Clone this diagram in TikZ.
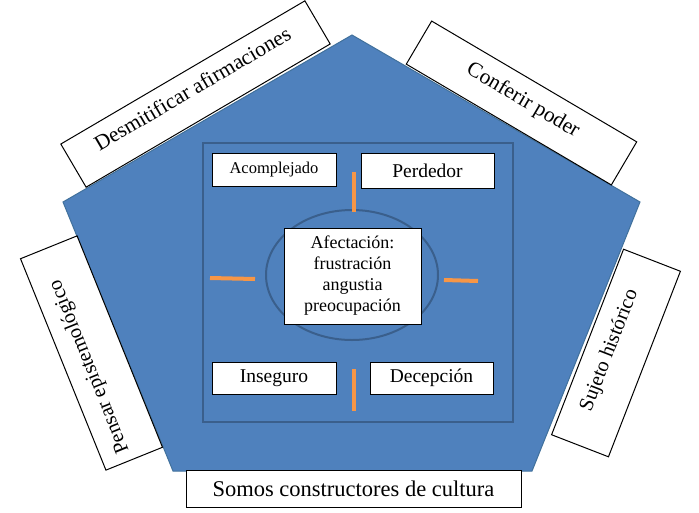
\documentclass[tikz,border=0pt]{standalone}
\usepackage{fontspec}
\setmainfont{Liberation Serif}
\usetikzlibrary{shapes.geometric}
\definecolor{penfill}{HTML}{4F81BD}
\definecolor{penline}{HTML}{41719C}
\definecolor{sqline}{HTML}{3A5F8C}
\definecolor{orangebar}{HTML}{F79646}
\begin{document}
\begin{tikzpicture}[x=1pt,y=-1pt,
  wbox/.style={draw=black, fill=white, line width=1pt, inner sep=0pt, align=center},
  bar/.style={draw=orangebar, line width=4pt},
  topfont/.style={font=\fontsize{21.5}{24}\selectfont},
  sidefont/.style={font=\fontsize{20.5}{23}\selectfont},
  smallfont/.style={font=\fontsize{19.5}{22}\selectfont},
]
\useasboundingbox (0,0) rectangle (699,512);
\fill[white] (0,0) rectangle (699,512);

% pentagon
\filldraw[fill=penfill, draw=penline, line width=1pt]
  (352,35) -- (640,202) -- (532,471) -- (173,471) -- (63,202) -- cycle;

% inner square and ellipse
\draw[sqline, line width=2.5pt] (203,143) rectangle (513,422);
\node[ellipse, draw=sqline, line width=2pt, minimum width=172pt, minimum height=130pt, inner sep=0pt] (ring) at (352,275) {};

% orange bars
\coordinate (bt1) at (354,172); \coordinate (bt2) at (354,212);
\coordinate (bl1) at (210,278); \coordinate (bl2) at (255,279);
\coordinate (br1) at (444,280); \coordinate (br2) at (478,281);
\coordinate (bb1) at (354,369); \coordinate (bb2) at (354,411);
\draw[bar] (bt1) -- (bt2);
\draw[bar] (bl1) -- (bl2);
\draw[bar] (br1) -- (br2);
\draw[bar] (bb1) -- (bb2);

% inner boxes
\node[wbox, minimum width=124pt, minimum height=33pt, font=\fontsize{16.5}{19}\selectfont] (acomp) at (274,169.5) {Acomplejado};
\node[wbox, smallfont, minimum width=133pt, minimum height=35pt] (perd) at (427.5,170.5) {Perdedor};
\node[wbox, smallfont, minimum width=124pt, minimum height=32pt] (inseg) at (274,378) {Inseguro};
\node[wbox, smallfont, minimum width=123pt, minimum height=32pt] (decep) at (431.5,378) {Decepción};
\node[wbox, minimum width=137pt, minimum height=96pt, font=\fontsize{18}{21}\selectfont] (afect) at (352.5,276) {Afectación:\\frustración\\angustia\\preocupación};

% outer boxes
\node[wbox, font=\fontsize{22.5}{25}\selectfont, minimum width=335pt, minimum height=37pt] (somos) at (353.5,488.5) {Somos constructores de cultura};
\node[wbox, topfont, rotate=30.4, minimum width=283pt, minimum height=50pt, text depth=13pt] (desmit) at (195.5,94) {Desmitificar afirmaciones};
\node[wbox, topfont, rotate=-30.5, minimum width=238pt, minimum height=50pt, text depth=10pt] (confer) at (521.5,103) {Conferir poder};
\node[wbox, sidefont, rotate=112, minimum width=228pt, minimum height=61pt, text depth=18pt] (pensar) at (91.5,353) {Pensar epistemológico\hspace*{24pt}};
\node[wbox, sidefont, rotate=68.8, minimum width=199pt, minimum height=61pt, text depth=18pt] (sujeto) at (616,353) {Sujeto histórico};
\end{tikzpicture}
\end{document}
